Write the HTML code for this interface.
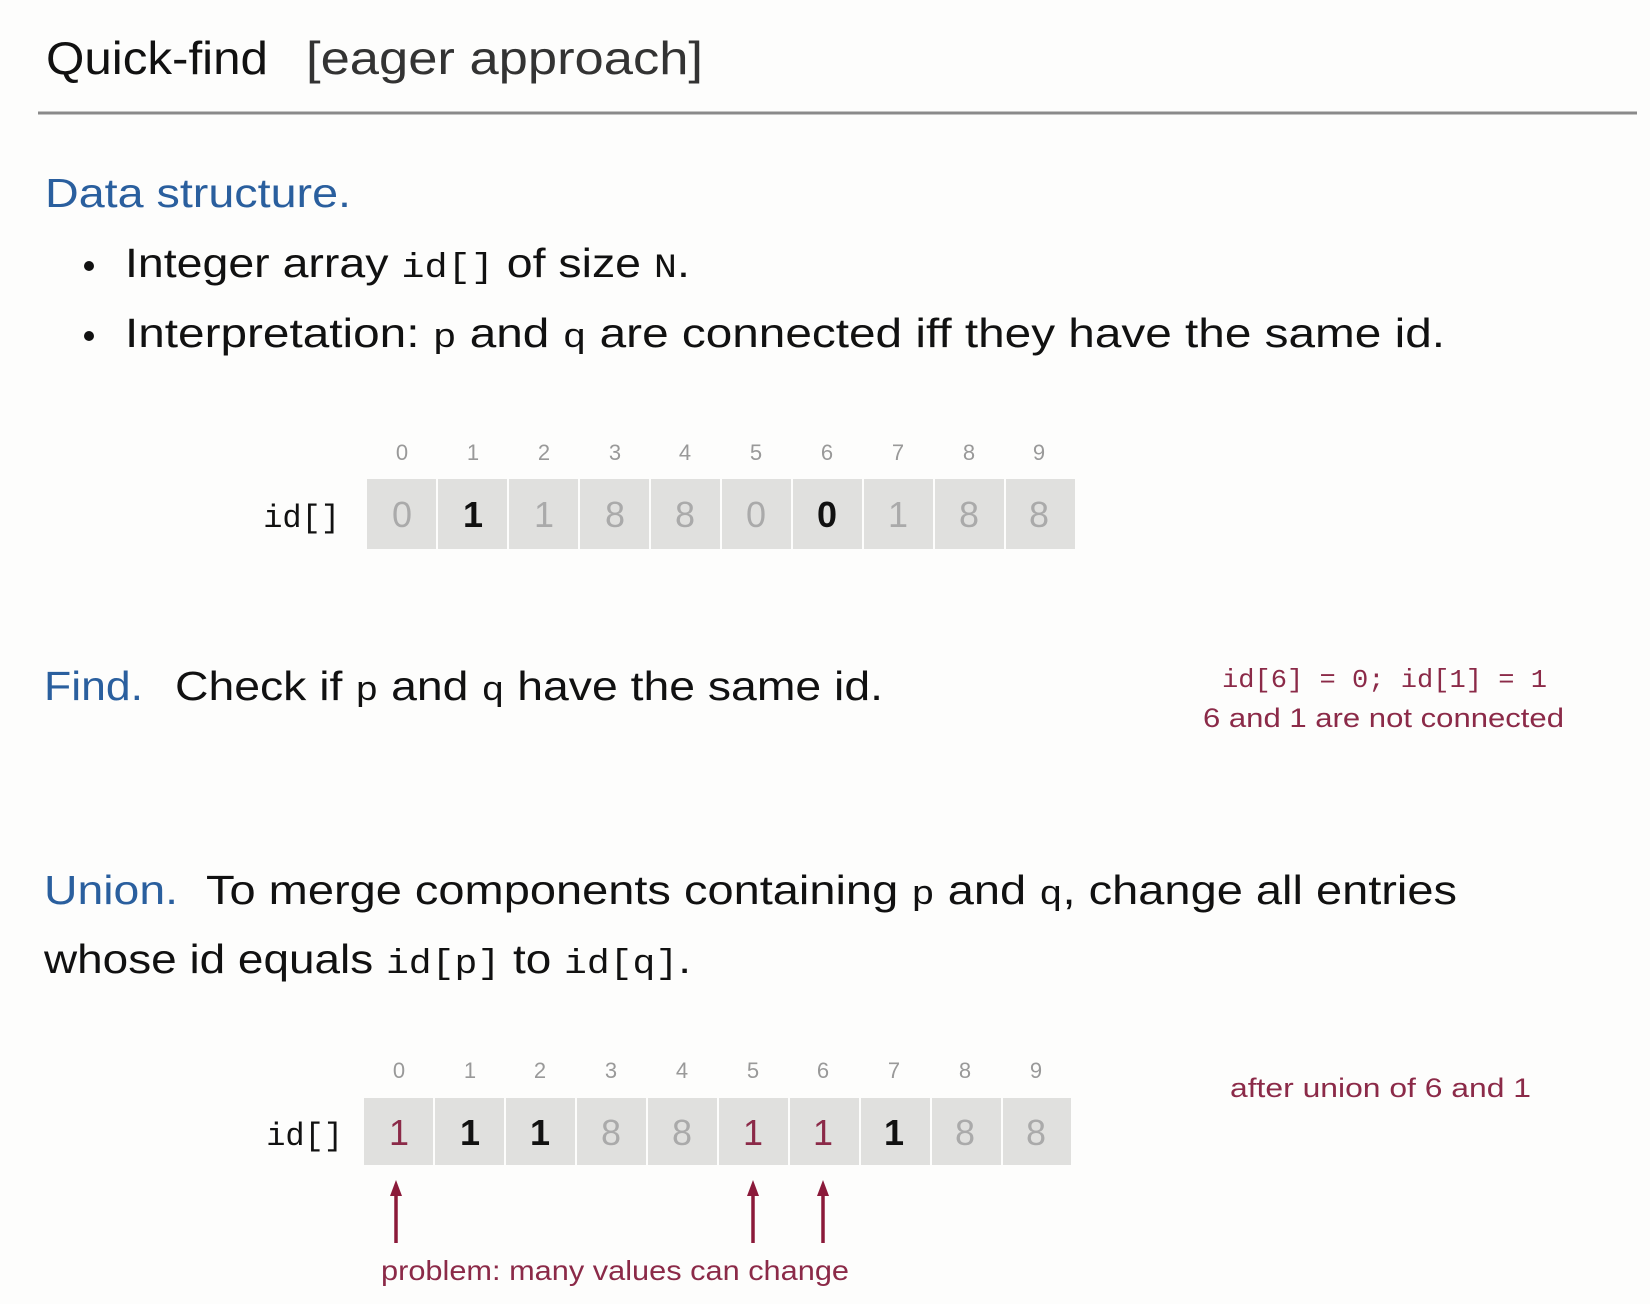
<!DOCTYPE html>
<html><head><meta charset="utf-8"><style>html,body{margin:0;padding:0;background:#fdfdfc;}svg{display:block}</style></head>
<body>
<svg width="1650" height="1304" viewBox="0 0 1650 1304" xmlns="http://www.w3.org/2000/svg" font-family="Liberation Sans, DejaVu Sans, sans-serif">
<rect width="1650" height="1304" fill="#fdfdfc"/>
<text x="46" y="74" font-size="46" fill="#111" textLength="222" lengthAdjust="spacingAndGlyphs">Quick-find</text>
<text x="306" y="74" font-size="46" fill="#333" textLength="397" lengthAdjust="spacingAndGlyphs">[eager approach]</text>
<line x1="38" y1="113" x2="1637" y2="113" stroke="#8a8a8a" stroke-width="3"/>

<text x="45" y="207" font-size="41" fill="#2a5f9e" textLength="306" lengthAdjust="spacingAndGlyphs">Data structure.</text>
<circle cx="89" cy="266" r="5" fill="#111"/>
<text x="125" y="277" font-size="41" fill="#111" textLength="565" lengthAdjust="spacingAndGlyphs">Integer array <tspan font-family="Liberation Mono, monospace" font-size="34">id[]</tspan> of size <tspan font-family="Liberation Mono, monospace" font-size="34">N</tspan>.</text>
<circle cx="89" cy="336" r="5" fill="#111"/>
<text x="125" y="347" font-size="41" fill="#111" textLength="1320" lengthAdjust="spacingAndGlyphs">Interpretation:  <tspan font-family="Liberation Mono, monospace" font-size="34">p</tspan> and <tspan font-family="Liberation Mono, monospace" font-size="34">q</tspan> are connected iff they have the same id.</text>

<!-- array 1 -->
<g font-size="22" fill="#999" text-anchor="middle">
<text x="402" y="460">0</text><text x="473" y="460">1</text><text x="544" y="460">2</text><text x="615" y="460">3</text><text x="685" y="460">4</text><text x="756" y="460">5</text><text x="827" y="460">6</text><text x="898" y="460">7</text><text x="969" y="460">8</text><text x="1039" y="460">9</text>
</g>
<text x="340" y="527" font-family="Liberation Mono, monospace" font-size="32" fill="#111" text-anchor="end">id[]</text>
<g fill="#e0e0de">
<rect x="367" y="479" width="69" height="70"/><rect x="438" y="479" width="69" height="70"/><rect x="509" y="479" width="69" height="70"/><rect x="580" y="479" width="69" height="70"/><rect x="651" y="479" width="69" height="70"/><rect x="722" y="479" width="69" height="70"/><rect x="793" y="479" width="69" height="70"/><rect x="864" y="479" width="69" height="70"/><rect x="935" y="479" width="69" height="70"/><rect x="1006" y="479" width="69" height="70"/>
</g>
<g font-size="36" text-anchor="middle" fill="#aaa">
<text x="402" y="527">0</text><text x="473" y="527" fill="#111" font-weight="bold">1</text><text x="544" y="527">1</text><text x="615" y="527">8</text><text x="685" y="527">8</text><text x="756" y="527">0</text><text x="827" y="527" fill="#111" font-weight="bold">0</text><text x="898" y="527">1</text><text x="969" y="527">8</text><text x="1039" y="527">8</text>
</g>

<!-- Find -->
<text x="44" y="700" font-size="41" fill="#2a5f9e" textLength="99" lengthAdjust="spacingAndGlyphs">Find.</text>
<text x="175" y="700" font-size="41" fill="#111" textLength="708" lengthAdjust="spacingAndGlyphs">Check if <tspan font-family="Liberation Mono, monospace" font-size="34">p</tspan> and <tspan font-family="Liberation Mono, monospace" font-size="34">q</tspan> have the same id.</text>
<text x="1222" y="687" font-family="Liberation Mono, monospace" font-size="26" fill="#8b2a48" textLength="325" lengthAdjust="spacingAndGlyphs">id[6] = 0; id[1] = 1</text>
<text x="1203" y="727" font-size="27" fill="#8b2a48" textLength="361" lengthAdjust="spacingAndGlyphs">6 and 1 are not connected</text>

<!-- Union -->
<text x="44" y="904" font-size="41" fill="#2a5f9e" textLength="134" lengthAdjust="spacingAndGlyphs">Union.</text>
<text x="206" y="904" font-size="41" fill="#111" textLength="1251" lengthAdjust="spacingAndGlyphs">To merge components containing <tspan font-family="Liberation Mono, monospace" font-size="34">p</tspan> and <tspan font-family="Liberation Mono, monospace" font-size="34">q</tspan>, change all entries</text>
<text x="44" y="973" font-size="41" fill="#111" textLength="647" lengthAdjust="spacingAndGlyphs">whose id equals <tspan font-family="Liberation Mono, monospace" font-size="34">id[p]</tspan> to <tspan font-family="Liberation Mono, monospace" font-size="34">id[q]</tspan>.</text>

<!-- array 2 -->
<g font-size="22" fill="#999" text-anchor="middle">
<text x="399" y="1078">0</text><text x="470" y="1078">1</text><text x="540" y="1078">2</text><text x="611" y="1078">3</text><text x="682" y="1078">4</text><text x="753" y="1078">5</text><text x="823" y="1078">6</text><text x="894" y="1078">7</text><text x="965" y="1078">8</text><text x="1036" y="1078">9</text>
</g>
<text x="343" y="1145" font-family="Liberation Mono, monospace" font-size="32" fill="#111" text-anchor="end">id[]</text>
<g fill="#e0e0de">
<rect x="364" y="1098" width="69" height="67"/><rect x="435" y="1098" width="69" height="67"/><rect x="506" y="1098" width="69" height="67"/><rect x="577" y="1098" width="69" height="67"/><rect x="648" y="1098" width="69" height="67"/><rect x="719" y="1098" width="69" height="67"/><rect x="790" y="1098" width="69" height="67"/><rect x="861" y="1098" width="69" height="67"/><rect x="932" y="1098" width="69" height="67"/><rect x="1003" y="1098" width="68" height="67"/>
</g>
<g font-size="36" text-anchor="middle" fill="#aaa">
<text x="399" y="1145" fill="#8b2a48">1</text><text x="470" y="1145" fill="#111" font-weight="bold">1</text><text x="540" y="1145" fill="#111" font-weight="bold">1</text><text x="611" y="1145">8</text><text x="682" y="1145">8</text><text x="753" y="1145" fill="#8b2a48">1</text><text x="823" y="1145" fill="#8b2a48">1</text><text x="894" y="1145" fill="#111" font-weight="bold">1</text><text x="965" y="1145">8</text><text x="1036" y="1145">8</text>
</g>
<text x="1230" y="1097" font-size="27" fill="#8b2a48" textLength="301" lengthAdjust="spacingAndGlyphs">after union of 6 and 1</text>

<g stroke="#8b1a3a" stroke-width="3.5" fill="#8b1a3a">
<line x1="396" y1="1192" x2="396" y2="1243"/><polygon points="390,1196 402,1196 396,1180" stroke="none"/>
<line x1="753" y1="1192" x2="753" y2="1243"/><polygon points="747,1196 759,1196 753,1180" stroke="none"/>
<line x1="823" y1="1192" x2="823" y2="1243"/><polygon points="817,1196 829,1196 823,1180" stroke="none"/>
</g>
<text x="381" y="1280" font-size="28" fill="#8b2a48" textLength="468" lengthAdjust="spacingAndGlyphs">problem: many values can change</text>
</svg>
</body></html>
